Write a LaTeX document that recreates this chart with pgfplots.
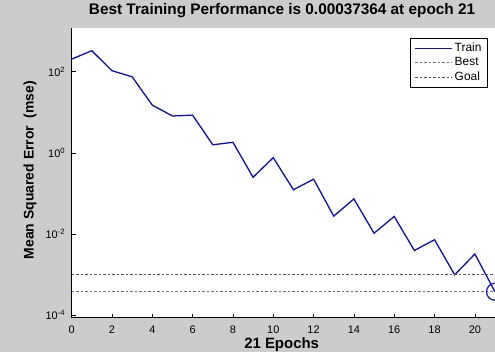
\documentclass[border=0pt]{standalone}
\usepackage{pgfplots}
\pgfplotsset{compat=1.18}
\usepackage{fontspec}
\setmainfont{Liberation Sans}

\definecolor{figgray}{RGB}{204,204,204}
\definecolor{trainblue}{RGB}{12,12,200}
\definecolor{bestcol}{RGB}{105,105,185}
\definecolor{goalcol}{RGB}{85,85,85}

\begin{document}
\begin{tikzpicture}
% figure background
\path[use as bounding box, fill=figgray] (-71.7bp,-34bp) rectangle (423.5bp,318bp);
\begin{axis}[
  ymode=log,
  scale only axis,
  width=423.5bp, height=290bp,
  xmin=0, xmax=21,
  ymin=8.5e-5, ymax=1200,
  axis background/.style={fill=white},
  axis x line*=bottom, axis y line*=left,
  axis line style={-, black, line width=0.8bp},
  xtick={0,2,...,20},
  ytick={1e-4,1e-2,1,1e2},
  yticklabels={10\textsuperscript{-4},10\textsuperscript{-2},10\textsuperscript{0},10\textsuperscript{2}},
  xminorticks=false, yminorticks=false,
  major tick length=4bp,
  tick style={black, line width=0.6bp},
  tick align=inside,
  /pgf/number format/assume math mode=true,
  ticklabel style={font=\fontsize{11}{13}\selectfont},
  xticklabel style={anchor=base, yshift=-15.5bp},
  yticklabel style={xshift=-3bp},
  title={Best Training Performance is 0.00037364 at epoch 21},
  title style={font=\fontsize{15.4}{17}\selectfont\bfseries,
    at={(axis description cs:0.497,1.0276)}, anchor=base},
  xlabel={21 Epochs},
  xlabel style={font=\fontsize{15}{17}\selectfont\bfseries,
    at={(axis description cs:0.496,-0.1045)}, anchor=base},
  ylabel={Mean Squared Error\ \ (mse)},
  ylabel style={font=\fontsize{14}{16}\selectfont\bfseries,
    at={(axis description cs:-0.0897,0.51)}, anchor=base},
  clip marker paths=true,
  legend style={draw=black, fill=white, line width=0.6bp,
    font=\fontsize{12}{14}\selectfont,
    at={(axis description cs:0.983,0.966)}, anchor=north east,
    inner xsep=4bp, inner ysep=3bp, row sep=0.5bp},
  legend cell align=left,
  legend image code/.code={\draw[#1] (0bp,0bp) -- (37bp,0bp);},
]
% training error per epoch
\addplot[trainblue, line width=1.3bp] coordinates {
  (0,205) (1,330) (2,106) (3,75) (4,15) (5,8.1) (6,8.5) (7,1.58)
  (8,1.82) (9,0.25) (10,0.76) (11,0.123) (12,0.224) (13,0.0275)
  (14,0.073) (15,0.0104) (16,0.027) (17,0.0039) (18,0.0072)
  (19,0.00098) (20,0.0032) (21,0.00037364)
};
\addlegendentry{Train}
% best performance level
\addplot[bestcol, line width=0.8bp, dash pattern=on 2.5bp off 2bp] coordinates {(0,0.00037364) (21,0.00037364)};
\addlegendentry{Best}
% performance goal
\addplot[goalcol, line width=0.8bp, dash pattern=on 2.5bp off 2bp] coordinates {(0,0.001) (21,0.001)};
\addlegendentry{Goal}
% marker at the best epoch
\addplot[trainblue, line width=1.2bp, only marks, mark=o, mark size=8.5bp, forget plot] coordinates {(21,0.00037364)};
\end{axis}
\end{tikzpicture}
\end{document}
